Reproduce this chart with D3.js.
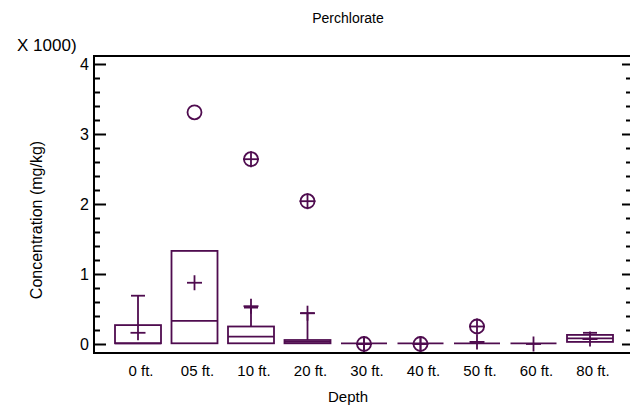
<!DOCTYPE html>
<html><head><meta charset="utf-8">
<script src="https://cdn.jsdelivr.net/npm/d3@7"></script>
<style>body{margin:0;background:#fff}svg{display:block}text{font-family:"Liberation Sans",Arial,sans-serif;fill:#000}</style>
</head><body><svg id="c" width="630" height="417"></svg>
<script>
const categories = ["0 ft.","05 ft.","10 ft.","20 ft.","30 ft.","40 ft.","50 ft.","60 ft.","80 ft."];
const q1Values     = [10, 10, 10, 10, 10, 10, 10, 10, 30];
const medianValues = [10, 330, 105, 30, 10, 10, 10, 10, 80];
const q3Values     = [270, 1330, 250, 57, 10, 10, 10, 10, 130];
const whiskerHigh  = [690, 1330, 520, 440, 10, 10, 30, 10, 160];
const meanValues   = [160, 875, 540, 440, 0, 0, 30, 0, 70];
const outsidePoints = [[], [3310], [], [], [], [], [], [], []];
const farOutsidePoints = [[], [], [2640], [2040], [0], [0], [250], [], []];
const yTicks = [0, 1000, 2000, 3000, 4000];
const yTickLabels = ["0", "1", "2", "3", "4"];

const col = "#4f0c4f";
const svg = d3.select("#c");
const frame = {l: 94, t: 56, r: 631, b: 353};
const x = d3.scalePoint().domain(categories).range([138, 590]);
const y = d3.scaleLinear().domain([0, 4000]).range([344, 64]);
const boxW = 46, ph = 7.5, cr = 7;

svg.append("rect").attr("x", frame.l).attr("y", frame.t)
  .attr("width", frame.r - frame.l).attr("height", frame.b - frame.t)
  .attr("fill", "none").attr("stroke", "#000").attr("stroke-width", 2);

const minor = d3.range(0, 4001, 200).filter(v => v % 1000 !== 0);
const gL = svg.append("g").attr("transform", `translate(${frame.l},0)`);
gL.call(d3.axisRight(y).tickValues(yTicks).tickSize(12).tickFormat(""))
  .call(g => g.select(".domain").remove());
gL.append("g").call(d3.axisRight(y).tickValues(minor).tickSize(6).tickFormat(""))
  .call(g => g.select(".domain").remove());
const gR = svg.append("g").attr("transform", `translate(630,0)`);
gR.call(d3.axisLeft(y).tickValues(yTicks).tickSize(8).tickFormat(""))
  .call(g => g.select(".domain").remove());
gR.append("g").call(d3.axisLeft(y).tickValues(minor).tickSize(4).tickFormat(""))
  .call(g => g.select(".domain").remove());
svg.selectAll(".tick line").attr("stroke", "#000").attr("stroke-width", 2);

svg.append("g").selectAll("text").data(yTicks).join("text")
  .attr("x", 89).attr("y", d => y(d) + 6).attr("text-anchor", "end")
  .attr("font-size", 16).text((d, i) => yTickLabels[i]);
svg.append("g").selectAll("text").data(categories).join("text")
  .attr("x", d => x(d) + 3).attr("y", 376).attr("text-anchor", "middle")
  .attr("font-size", 15).text(d => d);

svg.append("text").attr("x", 348).attr("y", 23).attr("text-anchor", "middle").attr("font-size", 14).text("Perchlorate");
svg.append("text").attr("x", 348).attr("y", 402).attr("text-anchor", "middle").attr("font-size", 15).text("Depth");
svg.append("text").attr("transform", "translate(42,220) rotate(-90)").attr("text-anchor", "middle").attr("font-size", 16).text("Concentration (mg/kg)");
svg.append("text").attr("x", 17).attr("y", 51).attr("font-size", 17).text("X 1000)");

const data = categories.map((c, i) => ({c, q1: q1Values[i], med: medianValues[i], q3: q3Values[i], hi: whiskerHigh[i], mean: meanValues[i], out: outsidePoints[i], far: farOutsidePoints[i]}));
const g = svg.append("g").attr("stroke", col).attr("fill", "none").attr("stroke-width", 1.8);
data.forEach(d => {
  const cx = x(d.c);
  g.append("line").attr("x1", cx).attr("x2", cx).attr("y1", y(d.q3)).attr("y2", y(d.hi));
  if (d.hi > d.q3) g.append("line").attr("x1", cx - 7).attr("x2", cx + 7).attr("y1", y(d.hi)).attr("y2", y(d.hi));
  g.append("rect").attr("x", cx - boxW / 2).attr("y", y(d.q3)).attr("width", boxW).attr("height", Math.max(0, y(d.q1) - y(d.q3)));
  g.append("line").attr("x1", cx - boxW / 2).attr("x2", cx + boxW / 2).attr("y1", y(d.med)).attr("y2", y(d.med));
  g.append("line").attr("x1", cx - ph).attr("x2", cx + ph).attr("y1", y(d.mean)).attr("y2", y(d.mean));
  g.append("line").attr("x1", cx).attr("x2", cx).attr("y1", y(d.mean) - ph).attr("y2", y(d.mean) + ph);
  d.out.forEach(v => g.append("circle").attr("cx", cx).attr("cy", y(v)).attr("r", cr));
  d.far.forEach(v => {
    g.append("circle").attr("cx", cx).attr("cy", y(v)).attr("r", cr);
    g.append("line").attr("x1", cx - cr - 1).attr("x2", cx + cr + 1).attr("y1", y(v)).attr("y2", y(v));
    g.append("line").attr("x1", cx).attr("x2", cx).attr("y1", y(v) - cr - 1).attr("y2", y(v) + cr + 1);
  });
});
</script></body></html>
